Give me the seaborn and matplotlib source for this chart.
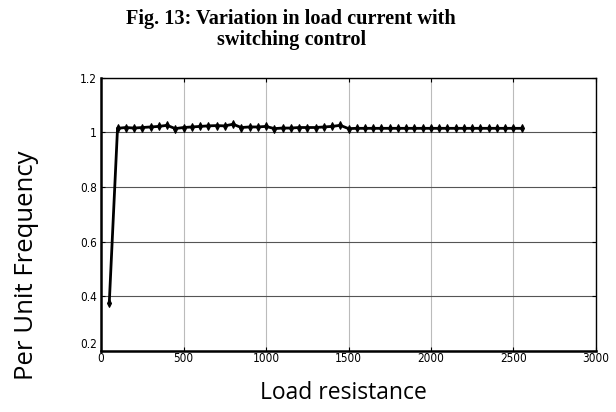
import matplotlib
matplotlib.use("Agg")
import matplotlib.pyplot as plt
import seaborn as sns
import pandas as pd
from matplotlib import font_manager

# Load resistance (ohm) and per-unit values
load_resistance = [50, 100, 150, 200, 250, 300, 350, 400, 450, 500,
                   550, 600, 650, 700, 750, 800, 850, 900, 950, 1000,
                   1050, 1100, 1150, 1200, 1250, 1300, 1350, 1400, 1450, 1500,
                   1550, 1600, 1650, 1700, 1750, 1800, 1850, 1900, 1950, 2000,
                   2050, 2100, 2150, 2200, 2250, 2300, 2350, 2400, 2450, 2500,
                   2550]
per_unit = [0.375, 1.015, 1.018, 1.016, 1.018, 1.020, 1.022, 1.026, 1.014, 1.018,
            1.020, 1.022, 1.024, 1.025, 1.024, 1.030, 1.018, 1.020, 1.020, 1.022,
            1.014, 1.016, 1.016, 1.018, 1.018, 1.018, 1.020, 1.022, 1.026, 1.014,
            1.015, 1.015, 1.015, 1.015, 1.015, 1.015, 1.015, 1.015, 1.015, 1.015,
            1.015, 1.015, 1.015, 1.015, 1.015, 1.015, 1.015, 1.015, 1.015, 1.015,
            1.015]

x_ticks = [0, 500, 1000, 1500, 2000, 2500, 3000]
y_ticks = [0.2, 0.4, 0.6, 0.8, 1.0, 1.2]
y_tick_labels = ["0.2", "0.4", "0.6", "0.8", "1", "1.2"]

df = pd.DataFrame({"Load resistance": load_resistance, "Per Unit Frequency": per_unit})

sns.set_theme(style="white")

installed = {f.name for f in font_manager.fontManager.ttflist}
tick_font = dict(family="Liberation Sans Narrow") if "Liberation Sans Narrow" in installed \
    else dict(family="DejaVu Sans", stretch="condensed")

fig = plt.figure(figsize=(6.16, 4.12), dpi=100)
ax = fig.add_axes([0.164, 0.149, 0.8035, 0.662])

sns.lineplot(data=df, x="Load resistance", y="Per Unit Frequency", ax=ax,
             color="black", linewidth=2.0, marker="d", markersize=4,
             markeredgecolor="black", markerfacecolor="black")

ax.set_xlim(0, 3000)
ax.set_ylim(0.2, 1.2)
ax.set_xticks(x_ticks)
ax.set_yticks(y_ticks)
ax.set_xticklabels([str(t) for t in x_ticks], fontsize=8.5, **tick_font)
ax.set_yticklabels(y_tick_labels, fontsize=8.5, **tick_font)

ax.grid(axis="y", color="#555555", linewidth=0.8)
ax.grid(axis="x", color="#bbbbbb", linewidth=0.8)
ax.set_axisbelow(True)

ax.tick_params(direction="in", length=3, width=0.8, colors="black",
               top=True, right=True, bottom=True, left=True, pad=1)
ax.tick_params(axis="y", pad=3)

# seat the lowest y label on the baseline so it clears the "0" below it
ax.yaxis.get_major_ticks()[0].label1.set_verticalalignment("bottom")

for side in ["left", "bottom"]:
    ax.spines[side].set_linewidth(1.8)
for side in ["top", "right"]:
    ax.spines[side].set_linewidth(1.0)
for s in ax.spines.values():
    s.set_color("black")

ax.set_xlabel("Load resistance", family="Open Sans", fontsize=16.5, color="black")
ax.xaxis.set_label_coords(0.489, -0.11)
ax.set_ylabel("Per Unit Frequency", family="Open Sans", fontsize=18.5, color="black")
ax.yaxis.set_label_coords(-0.125, 0.313)

fig.text(0.473, 0.978, "Fig. 13: Variation in load current with\nswitching control",
         ha="center", va="top", family="Liberation Serif", weight="bold",
         fontsize=14.6, color="black", linespacing=1.05)

fig.savefig("out.png", dpi=100)
